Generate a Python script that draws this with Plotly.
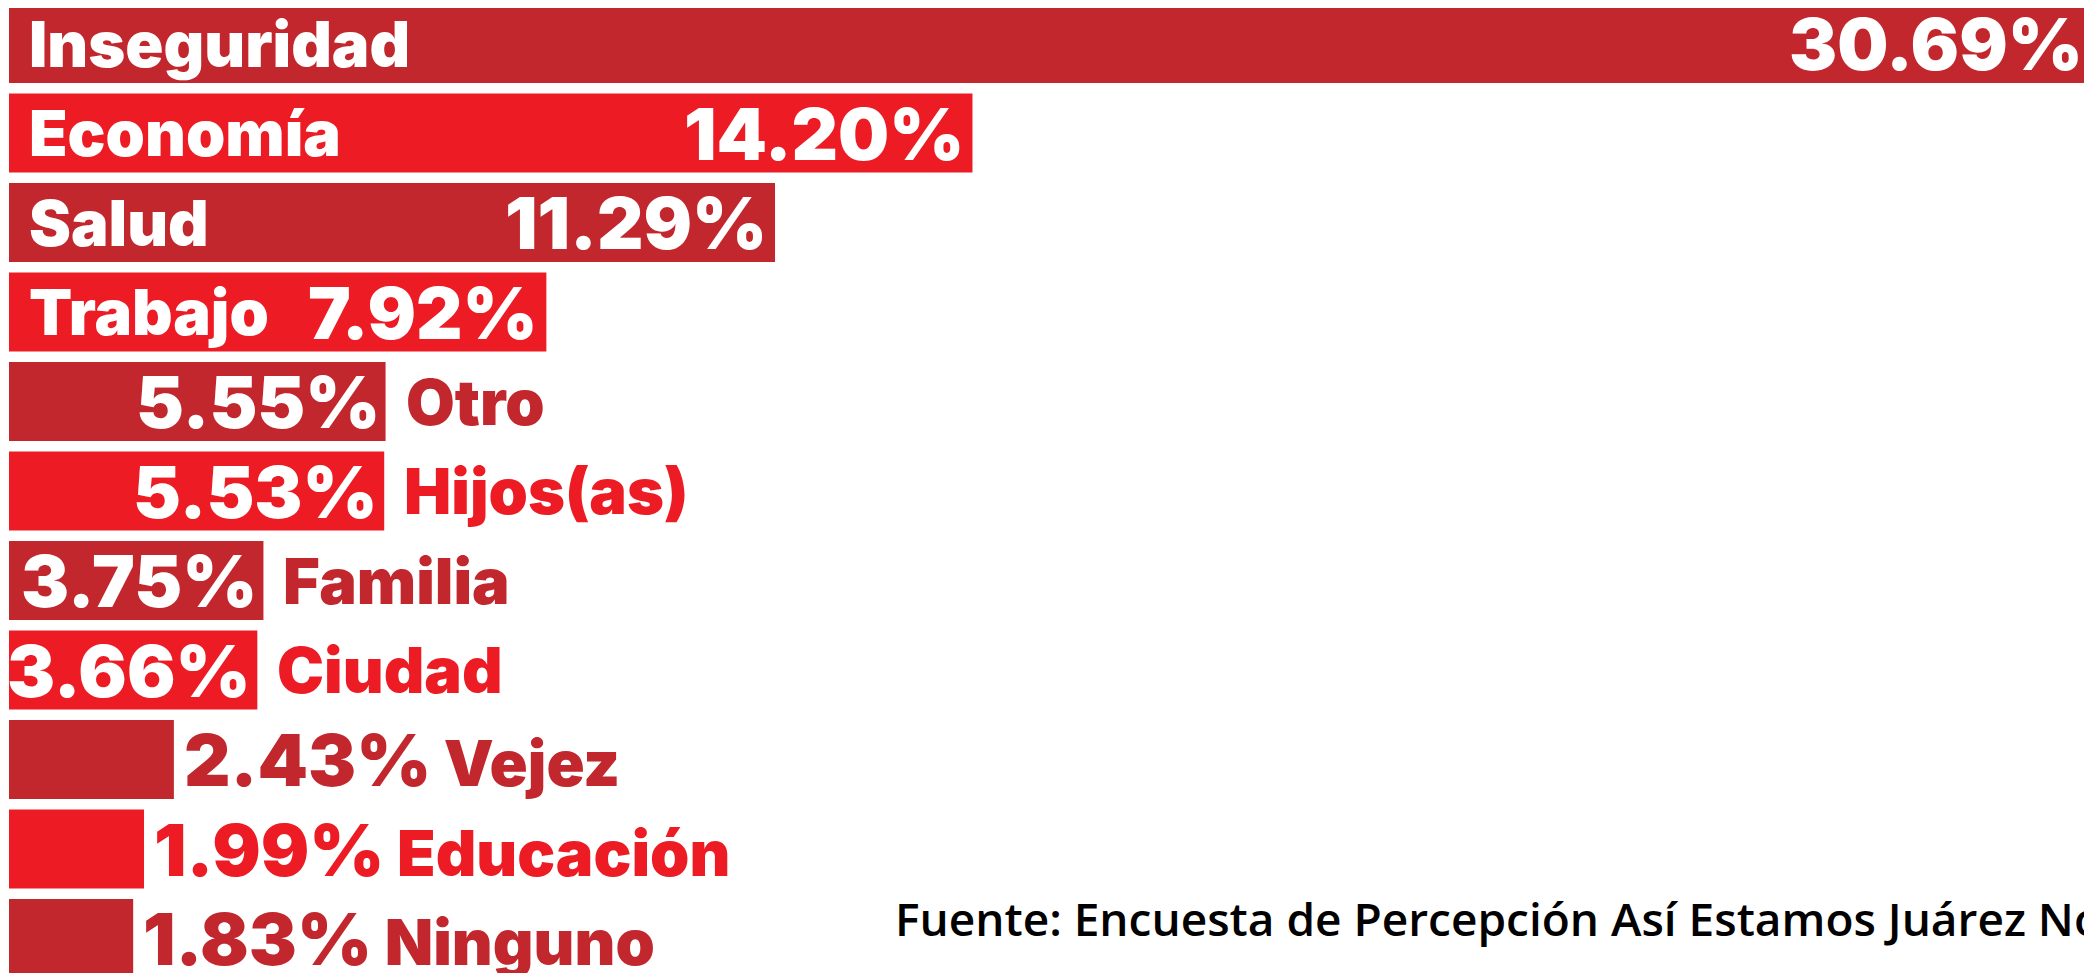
import plotly.graph_objects as go

categories = ["Inseguridad", "Economía", "Salud", "Trabajo", "Otro", "Hijos(as)",
              "Familia", "Ciudad", "Vejez", "Educación", "Ninguno"]
values = [30.69, 14.20, 11.29, 7.92, 5.55, 5.53, 3.75, 3.66, 2.43, 1.99, 1.83]
value_labels = ["30.69%", "14.20%", "11.29%", "7.92%", "5.55%", "5.53%",
                "3.75%", "3.66%", "2.43%", "1.99%", "1.83%"]
source_text = "Fuente: Encuesta de Percepción Así Estamos Juárez Noviembre 2022"

DARK = "#C1272D"
BRIGHT = "#ED1C24"
colors = [DARK if i % 2 == 0 else BRIGHT for i in range(len(categories))]

# the page body adds an 8px offset; figure is sized to fill the rest of the window
OFF = 8
W, H = 2092 - OFF, 973 - OFF
ML = 1
FONT = "Inter Black"
VAL_SIZE = 72
NAME_SIZE = 63

fig = go.Figure(go.Bar(
    x=values, y=categories, orientation="h",
    marker=dict(color=colors, line=dict(width=0)),
    width=0.883, hoverinfo="skip",
))


def vfont(color):
    return dict(family=FONT, size=VAL_SIZE, color=color)


def nfont(color):
    return dict(family=FONT, size=NAME_SIZE, color=color)


ann = []
for cat, v, lab, col in zip(categories, values, value_labels, colors):
    if v >= 7:
        ann.append(dict(x=0, y=cat, xref="x", yref="y", text=cat, xanchor="left",
                        xshift=18, yanchor="middle", showarrow=False, font=nfont("white")))
        ann.append(dict(x=v, y=cat, xref="x", yref="y", text=lab, xanchor="right",
                        xshift=-6, yanchor="middle", showarrow=False, font=vfont("white")))
    elif v >= 3.5:
        ann.append(dict(x=v, y=cat, xref="x", yref="y", text=lab, xanchor="right",
                        xshift=-4, yanchor="middle", showarrow=False, font=vfont("white")))
        ann.append(dict(x=v, y=cat, xref="x", yref="y", text=cat, xanchor="left",
                        xshift=18, yanchor="middle", showarrow=False, font=nfont(col)))
    else:
        txt = f"{lab}<span style='font-size:{NAME_SIZE}px'>&nbsp;{cat}</span>"
        ann.append(dict(x=v, y=cat, xref="x", yref="y", text=txt, xanchor="left",
                        xshift=8, yanchor="middle", showarrow=False, font=vfont(col)))

plot_w = W - ML
ann.append(dict(x=(893 - OFF - ML) / plot_w, y=1 - (918 - OFF) / H, xref="paper", yref="paper",
                text=source_text, xanchor="left", yanchor="middle", showarrow=False,
                font=dict(family="Open Sans", size=46, color="black", weight=600)))

# band pitch 89.5px; first bar centre at page y=43.5
pitch = 89.5
c0 = 43.5 - OFF
y_top = -c0 / pitch
y_bot = (H - c0) / pitch

fig.update_layout(
    width=W, height=H,
    margin=dict(l=ML, r=0, t=0, b=0),
    paper_bgcolor="white", plot_bgcolor="white",
    showlegend=False,
    xaxis=dict(range=[0, 30.7], visible=False, fixedrange=True),
    yaxis=dict(range=[y_bot, y_top], visible=False, fixedrange=True,
               categoryorder="array", categoryarray=categories),
    annotations=ann,
)

fig.write_html("out.html", config={"displayModeBar": False})
